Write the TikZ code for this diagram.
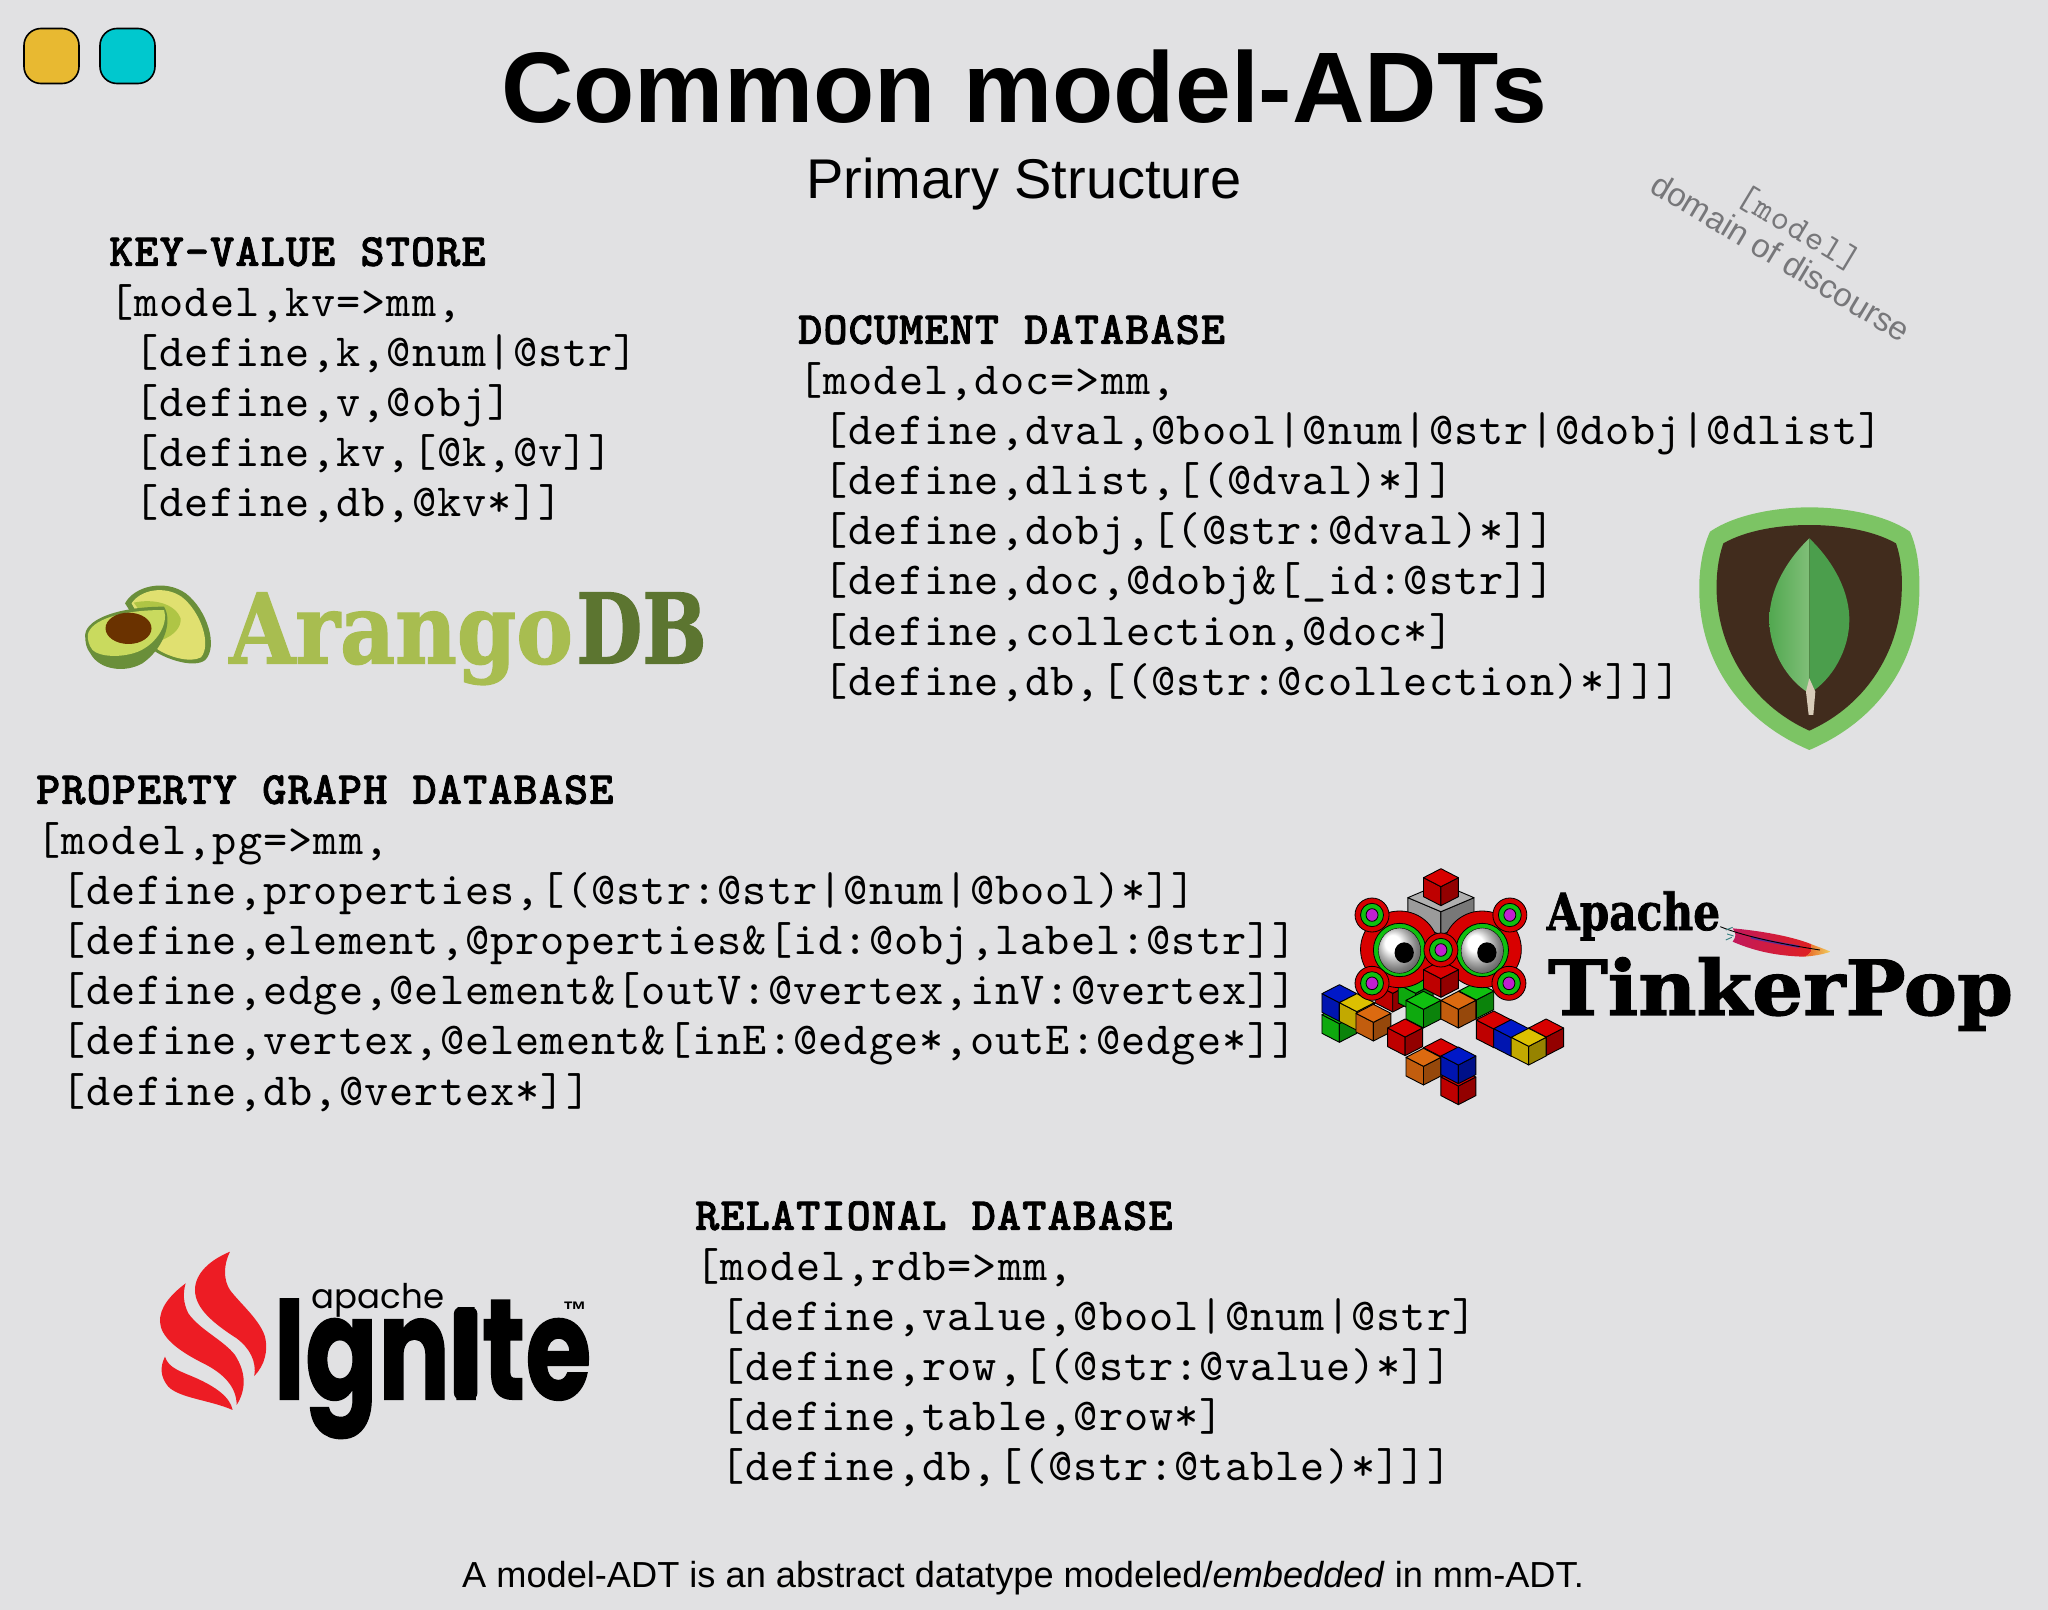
\documentclass[tikz,border=0pt]{standalone}
\usepackage{fontspec}
\usepackage{graphicx}
\setmainfont{Liberation Sans}
\newfontfamily\codef{lmmono10-regular.otf}[LetterSpace=2.37,BoldFont=lmmonolt10-bold.otf,BoldFeatures={FakeBold=1.6}]
\newfontfamily\tagf{lmmono10-regular.otf}[LetterSpace=4]
\newfontfamily\fatf{DejaVu Serif}[BoldFeatures={FakeBold=1.5}]
\newfontfamily\popf{Poppins}[BoldFeatures={FakeBold=1}]
\definecolor{bgc}{HTML}{E1E1E3}
\definecolor{tagc}{HTML}{77777A}
\definecolor{cred}{HTML}{D80000}
\definecolor{cgreen}{HTML}{10C010}
\definecolor{cmag}{HTML}{C020D0}
\definecolor{cblue}{HTML}{0018C8}
\definecolor{cyel}{HTML}{DCC000}
\definecolor{cora}{HTML}{DC6A10}
\definecolor{cgray}{HTML}{B0B0B0}
\definecolor{mshield}{HTML}{7CC464}
\definecolor{mdark}{HTML}{412C1D}
\definecolor{mleafa}{HTML}{52A850}
\definecolor{mleafb}{HTML}{80BF78}
\definecolor{mleafc}{HTML}{4B9E4C}
\definecolor{mstem}{HTML}{D8CCB8}
\definecolor{flame}{HTML}{ED1C24}
\definecolor{btny}{HTML}{E8B931}
\definecolor{btnc}{HTML}{00C8CE}
\definecolor{agreen}{HTML}{A8BD50}
\definecolor{adark}{HTML}{5C7530}
\definecolor{askin}{HTML}{6A8F3A}
\definecolor{ayel}{HTML}{E0E070}
\definecolor{aring}{HTML}{AFC545}
\definecolor{aface}{HTML}{C9DA5E}
\definecolor{apit}{HTML}{6A3200}
\definecolor{fcrim}{HTML}{C2185B}
\definecolor{fred}{HTML}{E02020}
\definecolor{forange}{HTML}{E85A20}
\definecolor{fyel}{HTML}{F0D060}
\definecolor{fpurp}{HTML}{5A2D9A}
\newcommand{\ind}{\hspace*{25.24pt}}
\newcommand{\tcube}[6]{%
  \filldraw[black,line width=.9pt,fill=#6!88!black,line join=round] (#1,#2) -- (#1-#3,#2-#4) -- (#1-#3,#2-#4+#5) -- (#1,#2+#5) -- cycle;
  \filldraw[black,line width=.9pt,fill=#6!68!black,line join=round] (#1,#2) -- (#1+#3,#2-#4) -- (#1+#3,#2-#4+#5) -- (#1,#2+#5) -- cycle;
  \filldraw[black,line width=.9pt,fill=#6,line join=round] (#1,#2) -- (#1-#3,#2-#4) -- (#1,#2-2*#4) -- (#1+#3,#2-#4) -- cycle;
}
\newcommand{\ccube}[3]{\tcube{#1}{#2}{38}{27}{56}{#3}}
\newcommand{\ear}[2]{%
  \filldraw[black,line width=.8pt,fill=cred] (#1,#2) ellipse [x radius=37,y radius=51];
  \filldraw[black,line width=.8pt,fill=cgreen] (#1,#2) ellipse [x radius=25,y radius=35];
  \filldraw[black,line width=.8pt,fill=cmag] (#1,#2) ellipse [x radius=13,y radius=19];
}
\tikzset{
  code/.style={anchor=north west,inner sep=0pt,align=left,font=\codef\fontsize{46}{50.2}\selectfont},
  tagtext/.style={inner sep=0pt,text=tagc,rotate=-31},
  logotext/.style={inner sep=0pt,anchor=base west},
  btn/.style={draw=black,line width=1.6pt,rounded corners=17pt}
}
\begin{document}
\begin{tikzpicture}[x=1pt,y=-1pt]
\useasboundingbox (0,0) rectangle (2048,1609);
\fill[bgc] (-2,-2) rectangle (2050,1611);
% buttons
\node[btn,fill=btny,minimum width=55pt,minimum height=55pt] (b1) at (51.5,56) {};
\node[btn,fill=btnc,minimum width=55pt,minimum height=55pt] (b2) at (127.5,56) {};
% titles
\node[inner sep=0pt,anchor=base,font=\bfseries\fontsize{100.3}{100}\selectfont] (title) at (1024,122) {Common model-ADTs};
\node[inner sep=0pt,anchor=base,font=\fontsize{56}{56}\selectfont] (subtitle) at (1024,198) {Primary Structure};
\node[tagtext,font=\tagf\fontsize{35}{35}\selectfont] (tag1) at (1799,229) {[model]};
\node[tagtext,font=\fontsize{33}{33}\selectfont] (tag2) at (1781,257) {domain of discourse};
\node[inner sep=0pt,anchor=base,font=\fontsize{36.2}{36}\selectfont] (foot) at (1023,1587) {A model-ADT is an abstract datatype modeled/\textit{embedded} in mm-ADT.};
% code
\node[code] (kv) at (109,237) {\textbf{KEY-VALUE STORE}\\{}[model,kv=>mm,\\\ind[define,k,@num|@str]\\\ind[define,v,@obj]\\\ind[define,kv,[@k,@v]]\\\ind[define,db,@kv*]]};
\node[code] (doc) at (798,315) {\textbf{DOCUMENT DATABASE}\\{}[model,doc=>mm,\\\ind[define,dval,@bool|@num|@str|@dobj|@dlist]\\\ind[define,dlist,[(@dval)*]]\\\ind[define,dobj,[(@str:@dval)*]]\\\ind[define,doc,@dobj\&[\_id:@str]]\\\ind[define,collection,@doc*]\\\ind[define,db,[(@str:@collection)*]]]};
\node[code] (pg) at (36,775) {\textbf{PROPERTY GRAPH DATABASE}\\{}[model,pg=>mm,\\\ind[define,properties,[(@str:@str|@num|@bool)*]]\\\ind[define,element,@properties\&[id:@obj,label:@str]]\\\ind[define,edge,@element\&[outV:@vertex,inV:@vertex]]\\\ind[define,vertex,@element\&[inE:@edge*,outE:@edge*]]\\\ind[define,db,@vertex*]]};
\node[code] (rel) at (695,1201) {\textbf{RELATIONAL DATABASE}\\{}[model,rdb=>mm,\\\ind[define,value,@bool|@num|@str]\\\ind[define,row,[(@str:@value)*]]\\\ind[define,table,@row*]\\\ind[define,db,[(@str:@table)*]]]};
% ArangoDB
\begin{scope}[shift={(60,560)},x=.4337pt,y=-.3333pt]
  \fill[askin] (150,130) .. controls (170,80) and (240,55) .. (290,100) .. controls (340,150) and (365,260) .. (335,300) .. controls (310,325) and (250,300) .. (220,275) -- cycle;
  \fill[ayel] (165,130) .. controls (185,90) and (240,75) .. (280,110) .. controls (325,155) and (350,255) .. (325,292) .. controls (300,310) and (250,290) .. (225,268) -- cycle;
  \fill[aring] (170,128) .. controls (215,115) and (265,130) .. (278,175) .. controls (280,200) and (265,225) .. (235,240) -- cycle;
  \fill[askin] (58,225) .. controls (60,175) and (140,140) .. (240,140) .. controls (262,190) and (235,270) .. (190,310) .. controls (150,340) and (90,330) .. (70,280) .. controls (60,265) and (58,245) .. (58,225) -- cycle;
  \fill[aface] (64,225) .. controls (70,180) and (140,150) .. (240,150) .. controls (250,190) and (225,250) .. (180,275) .. controls (140,295) and (90,290) .. (75,270) .. controls (66,255) and (64,240) .. (64,225) -- cycle;
  \fill[apit] (158,205) ellipse [x radius=53,y radius=47];
  \node[logotext,font=\fatf\bfseries\fontsize{97}{97}\selectfont,text=agreen] (arango) at (390,310) {\scalebox{.876}[1]{Arango}};
  \node[logotext,font=\fatf\bfseries\fontsize{97}{97}\selectfont,text=adark] (adb) at (1190,310) {\scalebox{.785}[1]{DB}};
\end{scope}
% MongoDB
\begin{scope}[shift={(1680,490)},x=.3333pt,y=-.3333pt]
  \fill[mshield] (90,125) .. controls (170,70) and (300,52) .. (388,52) .. controls (480,52) and (610,70) .. (690,125) .. controls (715,180) and (720,250) .. (718,310) .. controls (715,510) and (600,690) .. (388,780) .. controls (176,690) and (61,510) .. (58,310) .. controls (56,250) and (65,180) .. (90,125) -- cycle;
  \fill[mdark] (130,160) .. controls (200,120) and (300,105) .. (388,105) .. controls (476,105) and (578,120) .. (648,160) .. controls (662,200) and (668,250) .. (665,310) .. controls (660,470) and (570,640) .. (388,722) .. controls (206,640) and (116,470) .. (110,310) .. controls (108,250) and (116,200) .. (130,160) -- cycle;
  \shade[left color=mleafa,right color=mleafb] (388,145) .. controls (330,200) and (268,290) .. (268,390) .. controls (268,480) and (320,570) .. (388,610) -- cycle;
  \fill[mleafc] (388,145) .. controls (446,200) and (508,290) .. (508,390) .. controls (508,480) and (456,570) .. (388,610) -- cycle;
  \fill[mstem] (388,565) -- (406,605) -- (400,675) -- (386,675) -- (378,605) -- cycle;
\end{scope}
% TinkerPop
\begin{scope}[shift={(1310,850)},x=.4594pt,y=-.3333pt]
  \ccube{64}{521}{cgreen}
  \ccube{64}{458}{cblue}
  \ccube{102}{485}{cyel}
  \ccube{138}{517}{cora}
  \ccube{180}{430}{cred}
  \ccube{230}{430}{cgreen}
  \ccube{362}{450}{cgreen}
  \ccube{247}{478}{cgreen}
  \ccube{323}{478}{cora}
  \ccube{207}{561}{cred}
  \ccube{285}{620}{cred}
  \ccube{323}{708}{cred}
  \ccube{247}{649}{cora}
  \ccube{323}{645}{cblue}
  \ccube{400}{537}{cred}
  \ccube{514}{561}{cred}
  \ccube{438}{563}{cblue}
  \ccube{476}{589}{cyel}
  \tcube{285}{185}{72}{42}{70}{cgray}
  \tcube{285}{110}{38}{27}{57}{cred}
  \filldraw[black,line width=.8pt,fill=cred] (195,298) ellipse [x radius=85,y radius=115];
  \filldraw[black,line width=.8pt,fill=cred] (375,298) ellipse [x radius=85,y radius=115];
  \ccube{285}{386}{cred}
  \foreach \ex/\px in {195/205,375/385}{
    \filldraw[black,line width=.8pt,fill=cgreen] (\ex,300) ellipse [x radius=57,y radius=80];
    \shade[ball color=white,draw=black] (\ex,302) ellipse [x radius=46,y radius=68];
    \fill[black] (\px,308) ellipse [x radius=21,y radius=31];
  }
  \ear{135}{195}\ear{435}{195}\ear{135}{400}\ear{433}{400}\ear{285}{300}
  \node[logotext,font=\fatf\bfseries\fontsize{51}{51}\selectfont] (apache1) at (515,240) {\scalebox{.83}[1]{Apache}};
  \node[logotext,font=\fatf\bfseries\fontsize{76}{76}\selectfont] (tinker) at (518,495) {\scalebox{1.055}[1]{TinkerPop}};
  \shade[left color=fcrim,right color=fred] (920,235) .. controls (1000,245) and (1060,265) .. (1090,282) .. controls (1095,300) and (1090,315) .. (1075,320) .. controls (1020,318) and (970,305) .. (920,275) .. controls (928,260) and (928,250) .. (920,235) -- cycle;
  \shade[left color=forange,right color=fyel] (1090,282) .. controls (1105,290) and (1120,297) .. (1133,305) .. controls (1115,314) and (1095,318) .. (1075,320) .. controls (1090,315) and (1095,300) .. (1090,282) -- cycle;
  \draw[fpurp,line width=2.4pt] (960,262) .. controls (990,272) and (1030,282) .. (1065,290);
  \draw[black,line width=.9pt] (893,230) .. controls (950,262) and (1040,285) .. (1110,300);
  \draw[teal!60!gray,line width=.9pt] (905,240) -- (920,232) (908,252) -- (922,258) (905,270) -- (918,262);
\end{scope}
% Ignite
\begin{scope}[shift={(140,1230)},x=.3333pt,y=-.3333pt]
  \fill[flame] (270,65) .. controls (210,90) and (165,130) .. (165,180) .. controls (165,235) and (220,280) .. (290,325) .. controls (330,355) and (350,395) .. (343,438) .. controls (375,405) and (385,360) .. (375,320) .. controls (360,270) and (300,220) .. (270,180) .. controls (250,150) and (250,105) .. (270,65) -- cycle;
  \fill[flame] (137,160) .. controls (90,195) and (58,235) .. (60,275) .. controls (62,320) and (110,360) .. (190,400) .. controls (250,430) and (290,470) .. (290,525) .. controls (318,480) and (320,430) .. (285,375) .. controls (250,330) and (180,300) .. (145,250) .. controls (130,220) and (128,190) .. (137,160) -- cycle;
  \fill[flame] (75,380) .. controls (60,410) and (60,440) .. (85,470) .. controls (120,505) and (210,510) .. (278,540) .. controls (270,500) and (225,470) .. (170,445) .. controls (125,425) and (85,415) .. (75,380) -- cycle;
  \node[logotext,font=\popf\bfseries\fontsize{143}{143}\selectfont] (ignite) at (400,508) {\scalebox{.75}[1]{Ignite}};
  \fill[bgc] (925,150) rectangle (1020,232);
  \fill[black,rounded corners=6pt] (942,232) rectangle (1012,508);
  \node[logotext,font=\popf\fontsize{34}{34}\selectfont] (apache2) at (515,235) {apache};
  \node[inner sep=0pt,font=\bfseries\fontsize{24}{24}\selectfont] (tm) at (1305,242) {™};
\end{scope}
\end{tikzpicture}
\end{document}
